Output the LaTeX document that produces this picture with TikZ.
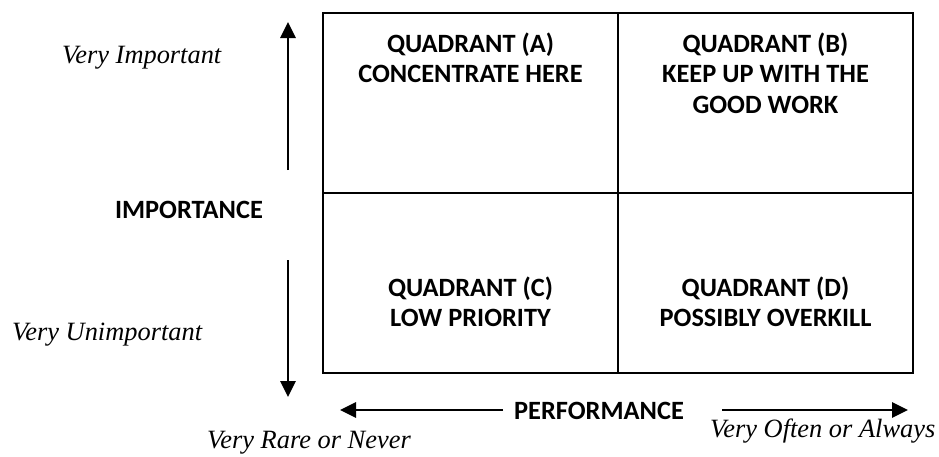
\documentclass[tikz,border=0pt]{standalone}
\usepackage{fontspec}
\usetikzlibrary{arrows.meta}
\newfontfamily\labelfont{Carlito}
\newfontfamily\notefont{Liberation Serif}
\begin{document}
\begin{tikzpicture}[x=1pt,y=-1pt,
  grid/.style={line width=2pt,draw=black},
  axis/.style={line width=2.7pt,-{Triangle[width=15pt,length=16pt]}},
  quad/.style={font=\labelfont\bfseries\fontsize{26.4}{30.5}\selectfont,align=center,anchor=base,inner sep=0pt},
  head/.style={font=\labelfont\bfseries\fontsize{26.4}{30.5}\selectfont,anchor=base,inner sep=0pt},
  note/.style={font=\notefont\itshape\fontsize{26.4}{30.5}\selectfont,anchor=base west,inner sep=0pt}]
\useasboundingbox (0,0) rectangle (939,456);

% four quadrants
\draw[grid] (323,13) rectangle (913,373);
\draw[grid] (618,13) -- (618,373);
\draw[grid] (323,193) -- (913,193);

% a multi-line node sits on the baseline of its last line
\node[quad] (qa) at (470.5,82.5) {QUADRANT (A)\\CONCENTRATE HERE};
\node[quad] (qb) at (765.5,113) {QUADRANT (B)\\KEEP UP WITH THE\\GOOD WORK};
\node[quad] (qc) at (470.5,326.5) {QUADRANT (C)\\LOW PRIORITY};
\node[quad] (qd) at (765.5,326.5) {QUADRANT (D)\\POSSIBLY OVERKILL};

% importance axis
\coordinate (upfrom) at (288,170);
\coordinate (upto) at (288,22);
\coordinate (downfrom) at (288,260);
\coordinate (downto) at (288,397);
\draw[axis] (upfrom) -- (upto);
\draw[axis] (downfrom) -- (downto);
\node[head] (imp) at (189,218) {IMPORTANCE};
\node[note] (vimp) at (62,63) {Very Important};
\node[note] (vunimp) at (12,340) {Very Unimportant};

% performance axis
\node[head] (perf) at (599,419) {PERFORMANCE};
\coordinate (leftfrom) at (503,410);
\coordinate (leftto) at (340,410);
\coordinate (rightfrom) at (722,410);
\coordinate (rightto) at (908,410);
\draw[axis] (leftfrom) -- (leftto);
\draw[axis] (rightfrom) -- (rightto);
\node[note] (vrare) at (207,448) {Very Rare or Never};
\node[note] (voften) at (710,437) {Very Often or Always};
\end{tikzpicture}
\end{document}
